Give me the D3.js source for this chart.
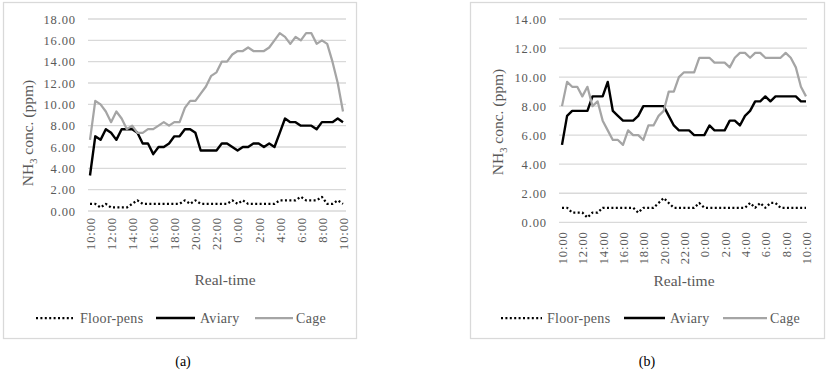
<!DOCTYPE html>
<html>
<head>
<meta charset="utf-8">
<title>NH3 concentration - real-time</title>
<script src="https://cdn.jsdelivr.net/npm/d3@7"></script>
<style>
  body { margin: 0; background: #fff; }
  svg text { font-family: "Liberation Serif", "Times New Roman", serif; }
</style>
</head>
<body>
<svg id="chart" width="827" height="373"></svg>
<script>
// half-hourly readings, 10:00 to 10:00 next day
var times = ["10:00","10:30","11:00","11:30","12:00","12:30","13:00","13:30","14:00","14:30",
  "15:00","15:30","16:00","16:30","17:00","17:30","18:00","18:30","19:00","19:30",
  "20:00","20:30","21:00","21:30","22:00","22:30","23:00","23:30","0:00","0:30",
  "1:00","1:30","2:00","2:30","3:00","3:30","4:00","4:30","5:00","5:30",
  "6:00","6:30","7:00","7:30","8:00","8:30","9:00","9:30","10:00"];

var seriesNames = ["Floor-pens", "Aviary", "Cage"];

// panel (a)
var floorA = [0.67,0.67,0.33,0.67,0.33,0.33,0.33,0.33,0.67,1.0,
  0.67,0.67,0.67,0.67,0.67,0.67,0.67,0.67,1.0,0.67,
  1.0,0.67,0.67,0.67,0.67,0.67,0.67,1.0,0.67,1.0,
  0.67,0.67,0.67,0.67,0.67,0.67,1.0,1.0,1.0,1.0,
  1.33,1.0,1.0,1.0,1.33,0.67,0.67,1.0,0.67];
var aviaryA = [3.33,7.0,6.67,7.67,7.33,6.67,7.67,7.67,7.67,7.33,
  6.33,6.33,5.33,6.0,6.0,6.33,7.0,7.0,7.67,7.67,
  7.33,5.67,5.67,5.67,5.67,6.33,6.33,6.0,5.67,6.0,
  6.0,6.33,6.33,6.0,6.33,6.0,7.33,8.67,8.33,8.33,
  8.0,8.0,8.0,7.67,8.33,8.33,8.33,8.67,8.33];
var cageA = [6.67,10.33,10.0,9.33,8.33,9.33,8.67,7.67,8.0,7.33,
  7.33,7.67,7.67,8.0,8.33,8.0,8.33,8.33,9.67,10.33,
  10.33,11.0,11.67,12.67,13.0,14.0,14.0,14.67,15.0,15.0,
  15.33,15.0,15.0,15.0,15.33,16.0,16.67,16.33,15.67,16.33,
  16.0,16.67,16.67,15.67,16.0,15.67,14.0,12.0,9.33];

// panel (b)
var floorB = [1.0,1.0,0.67,0.67,0.67,0.33,0.67,0.67,1.0,1.0,
  1.0,1.0,1.0,1.0,1.0,0.67,1.0,1.0,1.0,1.33,
  1.67,1.33,1.0,1.0,1.0,1.0,1.0,1.33,1.0,1.0,
  1.0,1.0,1.0,1.0,1.0,1.0,1.0,1.33,1.0,1.33,
  1.0,1.33,1.33,1.0,1.0,1.0,1.0,1.0,1.0];
var aviaryB = [5.33,7.33,7.67,7.67,7.67,7.67,8.67,8.67,8.67,9.67,
  7.67,7.33,7.0,7.0,7.0,7.33,8.0,8.0,8.0,8.0,
  8.0,7.33,6.67,6.33,6.33,6.33,6.0,6.0,6.0,6.67,
  6.33,6.33,6.33,7.0,7.0,6.67,7.33,7.67,8.33,8.33,
  8.67,8.33,8.67,8.67,8.67,8.67,8.67,8.33,8.33];
var cageB = [8.0,9.67,9.33,9.33,8.67,9.33,8.0,8.33,7.0,6.33,
  5.67,5.67,5.33,6.33,6.0,6.0,5.67,6.67,6.67,7.33,
  7.67,9.0,9.0,10.0,10.33,10.33,10.33,11.33,11.33,11.33,
  11.0,11.0,11.0,10.67,11.33,11.67,11.67,11.33,11.67,11.67,
  11.33,11.33,11.33,11.33,11.67,11.33,10.67,9.33,8.67];

var textColor = "#595959";
var gridColor = "#d9d9d9";
var serif = '"Liberation Serif", "Times New Roman", serif';
var styles = [
  {color: "#000", width: 2.25, dash: "2,2.4"},
  {color: "#000", width: 2.4, dash: null},
  {color: "#a5a5a5", width: 2.25, dash: null}
];

var svg = d3.select("#chart");
svg.append("rect").attr("width", 827).attr("height", 373).attr("fill", "#fff");

function drawPanel(p) {
  var g = svg.append("g");

  g.append("rect")
    .attr("x", p.frame[0] + 0.5).attr("y", p.frame[1] + 0.5)
    .attr("width", p.frame[2]).attr("height", p.frame[3])
    .attr("fill", "#fff").attr("stroke", gridColor).attr("stroke-width", 1.25);

  var x = d3.scaleLinear().domain([0, times.length - 1]).range([p.x0, p.x1]);
  var y = d3.scaleLinear().domain([0, p.yMax]).range([p.yBottom, p.yTop]);
  var yTicks = d3.range(0, p.yMax + 0.001, 2);

  // gridlines
  g.selectAll("line.grid").data(yTicks).join("line")
    .attr("class", "grid")
    .attr("x1", p.gridX0).attr("x2", p.gridX1)
    .attr("y1", function(d) { return y(d); }).attr("y2", function(d) { return y(d); })
    .attr("stroke", gridColor).attr("stroke-width", 1.3);

  // y axis labels
  var yAxis = g.append("g")
    .attr("transform", "translate(" + p.yLabelRight + ",0)")
    .call(d3.axisLeft(y).tickValues(yTicks).tickFormat(d3.format(".2f")).tickSize(0).tickPadding(0));
  yAxis.attr("font-family", null);
  yAxis.select(".domain").remove();
  yAxis.selectAll("text")
    .attr("fill", textColor)
    .style("font-family", serif).style("font-size", "12.5px").style("letter-spacing", "0.9px");

  // x axis labels, rotated
  var xAxis = g.append("g")
    .attr("transform", "translate(0," + p.yBottom + ")")
    .call(d3.axisBottom(x).tickValues(d3.range(0, times.length, 4))
      .tickFormat(function(i) { return times[i]; }).tickSize(0));
  xAxis.attr("font-family", null);
  xAxis.select(".domain").remove();
  xAxis.selectAll("text")
    .attr("transform", "rotate(-90)")
    .attr("x", -p.xLabelGap).attr("y", 0).attr("dy", "0.35em")
    .attr("text-anchor", "end")
    .attr("fill", textColor)
    .style("font-family", serif).style("font-size", "12.5px").style("letter-spacing", "0.9px");

  // series
  var line = d3.line()
    .x(function(d, i) { return x(i); })
    .y(function(d) { return y(d); });
  p.series.forEach(function(s, k) {
    g.append("path")
      .datum(s)
      .attr("d", line)
      .attr("fill", "none")
      .attr("stroke", styles[k].color)
      .attr("stroke-width", styles[k].width)
      .attr("stroke-dasharray", styles[k].dash)
      .attr("stroke-linejoin", "round");
  });

  // y title
  var yt = g.append("text")
    .attr("transform", "translate(" + p.yTitle[0] + "," + p.yTitle[1] + ") rotate(-90)")
    .attr("text-anchor", "middle")
    .attr("fill", textColor).style("font-family", serif).style("font-size", "15.5px");
  yt.append("tspan").text("NH");
  yt.append("tspan").text("3").attr("dy", 4).style("font-size", "10.5px");
  yt.append("tspan").text(" conc. (ppm)").attr("dy", -4);

  // x title
  g.append("text")
    .attr("x", p.xTitle[0]).attr("y", p.xTitle[1])
    .attr("text-anchor", "middle")
    .attr("fill", textColor).style("font-family", serif).style("font-size", "15.5px")
    .text("Real-time");

  // legend
  p.legend.forEach(function(L, k) {
    g.append("line")
      .attr("x1", L[0]).attr("x2", L[1])
      .attr("y1", p.legendY).attr("y2", p.legendY)
      .attr("stroke", styles[k].color)
      .attr("stroke-width", styles[k].width)
      .attr("stroke-dasharray", styles[k].dash);
    g.append("text")
      .attr("x", L[2]).attr("y", p.legendY + 4.5)
      .attr("fill", textColor).style("font-family", serif)
      .style("font-size", "14px").style("letter-spacing", "0.3px")
      .text(seriesNames[k]);
  });

  // caption
  g.append("text")
    .attr("x", p.caption[0]).attr("y", p.caption[1])
    .attr("text-anchor", "middle")
    .attr("fill", "#000").style("font-family", serif).style("font-size", "14px")
    .text(p.label);
}

drawPanel({
  label: "(a)",
  frame: [3, 2, 353, 336],
  x0: 90, x1: 343,
  gridX0: 88, gridX1: 346,
  yBottom: 211, yTop: 19, yMax: 18,
  yLabelRight: 76, xLabelGap: 6,
  yTitle: [33, 133],
  xTitle: [225, 285],
  legendY: 318,
  legend: [[36, 73, 80], [156, 195, 200], [255, 293, 296]],
  caption: [183, 366],
  series: [floorA, aviaryA, cageA]
});

drawPanel({
  label: "(b)",
  frame: [470, 2, 354, 336],
  x0: 562, x1: 806,
  gridX0: 559, gridX1: 807,
  yBottom: 222.3, yTop: 19, yMax: 14,
  yLabelRight: 547, xLabelGap: 9,
  yTitle: [503, 122],
  xTitle: [684, 286],
  legendY: 318,
  legend: [[501, 542, 547], [624, 665, 670], [723, 767, 770]],
  caption: [647, 366],
  series: [floorB, aviaryB, cageB]
});
</script>
</body>
</html>
